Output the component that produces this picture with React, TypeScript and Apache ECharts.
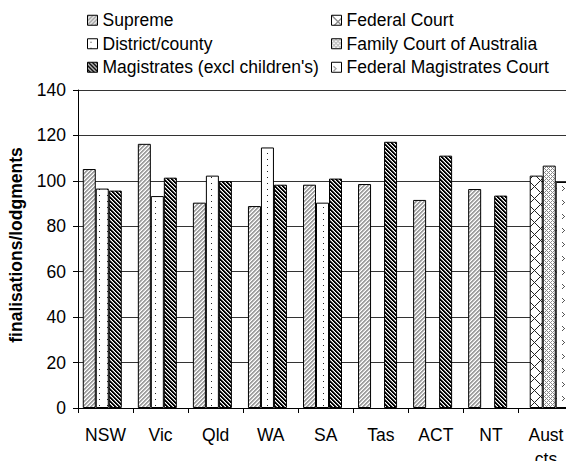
import React, { useEffect, useRef } from "react";
import * as echarts from "echarts";

const categories = ["NSW", "Vic", "Qld", "WA", "SA", "Tas", "ACT", "NT", "Aust\ncts"];
const supreme = [105.2, 116.3, 90.4, 88.9, 98.3, 98.6, 91.6, 96.4, null];
const federalCourt = [null, null, null, null, null, null, null, null, 102.3];
const district = [96.6, 93.3, 102.3, 114.7, 90.4, null, null, null, null];
const familyCourt = [null, null, null, null, null, null, null, null, 106.7];
const magistrates = [95.7, 101.4, 99.9, 98.3, 101.0, 117.2, 111.1, 93.5, null];
const fedMagistrates = [null, null, null, null, null, null, null, null, 99.5];
const yTicks = { min: 0, max: 140, interval: 20 };
const yTitle = "finalisations/lodgments";

const FONT = "'Liberation Sans', Arial, sans-serif";
const FS = 17.5;

function makePattern(w: number, h: number, bg: string, fn: (x: number, y: number) => string | null) {
  const c = document.createElement("canvas");
  c.width = w;
  c.height = h;
  const ctx = c.getContext("2d")!;
  ctx.fillStyle = bg;
  ctx.fillRect(0, 0, w, h);
  for (let y = 0; y < h; y++) {
    for (let x = 0; x < w; x++) {
      const col = fn(x, y);
      if (col) {
        ctx.fillStyle = col;
        ctx.fillRect(x, y, 1, 1);
      }
    }
  }
  return { image: c.toDataURL(), repeat: "repeat", imageWidth: w, imageHeight: h } as any;
}

export default function App() {
  const ref = useRef<HTMLDivElement>(null);
  useEffect(() => {
    if (!ref.current) return;
    const chart = echarts.init(ref.current, undefined, { renderer: "svg" });

    const pSupreme = makePattern(4, 4, "#ffffff", (x, y) => {
      const k = (x + y) % 4;
      return k === 0 || k === 1 ? "#a0a0a0" : k === 2 ? "#d6d6d6" : null;
    });
    const pMag = makePattern(4, 4, "#ffffff", (x, y) => {
      const k = (x - y + 400) % 4;
      return k === 0 || k === 1 ? "#000000" : k === 2 ? "#888888" : null;
    });
    const pDistrict = makePattern(8, 6, "#ffffff", (x, y) => (x === 3 && y === 3 ? "#222222" : null));
    const pFed = makePattern(12, 12, "#ffffff", (x, y) =>
      (x + y) % 12 === 0 || (x - y + 120) % 12 === 0 ? "#222222" : null
    );
    const pFamily = makePattern(4, 4, "#ffffff", (x, y) =>
      (x + y) % 4 === 0 || (x - y + 40) % 4 === 0 ? "#8a8a8a" : null
    );
    const pFMC = makePattern(8, 14, "#ffffff", (x, y) => {
      const pts = [
        [2, 4],
        [3, 5],
        [4, 6],
        [3, 7],
        [2, 8],
      ];
      return pts.some((p) => p[0] === x && p[1] === y) ? "#555555" : null;
    });

    const mk = (name: string, data: (number | null)[], fill: any) => ({
      name,
      type: "bar",
      data,
      barWidth: 13,
      barGap: "-50%",
      itemStyle: { color: fill, borderColor: "#000", borderWidth: 1 },
    });

    const legendBase = {
      orient: "vertical",
      top: 11.25,
      itemWidth: 10,
      itemHeight: 10,
      itemGap: 5.5,
      padding: 0,
      icon: "rect",
      textStyle: { fontFamily: FONT, fontSize: FS, lineHeight: FS, color: "#000" },
      itemStyle: { borderColor: "#000", borderWidth: 1 },
    };

    chart.setOption({
      animation: false,
      backgroundColor: "#fff",
      legend: [
        { ...legendBase, left: 87, data: ["Supreme", "District/county", "Magistrates (excl children's)"] },
        {
          ...legendBase,
          left: 331,
          data: ["Federal Court", "Family Court of Australia", "Federal Magistrates Court"],
        },
      ],
      graphic: [
        {
          type: "text",
          x: 15.5,
          y: 245,
          rotation: Math.PI / 2,
          style: {
            text: yTitle,
            fontFamily: FONT,
            fontSize: FS,
            fontWeight: "bold",
            fill: "#000",
            align: "center",
            verticalAlign: "middle",
          },
        },
      ],
      grid: { left: 78, top: 90, bottom: 53, width: 495.5, containLabel: false, outerBoundsMode: "none" },
      xAxis: {
        type: "category",
        data: categories,
        boundaryGap: true,
        axisLine: { lineStyle: { color: "#000", width: 1 } },
        axisTick: { show: true, length: 5, lineStyle: { color: "#000" } },
        axisLabel: {
          fontFamily: FONT,
          fontSize: FS,
          lineHeight: 24,
          color: "#000",
          margin: 15,
          interval: 0,
        },
      },
      yAxis: {
        type: "value",
        min: yTicks.min,
        max: yTicks.max,
        interval: yTicks.interval,
        axisLine: { show: true, lineStyle: { color: "#000", width: 1 } },
        axisTick: { show: true, length: 5, lineStyle: { color: "#000" } },
        axisLabel: { fontFamily: FONT, fontSize: FS, color: "#000", margin: 12 },
        splitLine: { show: true, lineStyle: { color: "#333", width: 1 } },
      },
      series: [
        mk("Supreme", supreme, pSupreme),
        mk("Federal Court", federalCourt, pFed),
        mk("District/county", district, pDistrict),
        mk("Family Court of Australia", familyCourt, pFamily),
        mk("Magistrates (excl children's)", magistrates, pMag),
        mk("Federal Magistrates Court", fedMagistrates, pFMC),
      ],
    });
    return () => chart.dispose();
  }, []);
  return (
    <div style={{ position: "fixed", left: 0, top: 0, width: 566, height: 461, overflow: "hidden", background: "#fff" }}>
      <div ref={ref} style={{ width: 590, height: 461 }} />
    </div>
  );
}
